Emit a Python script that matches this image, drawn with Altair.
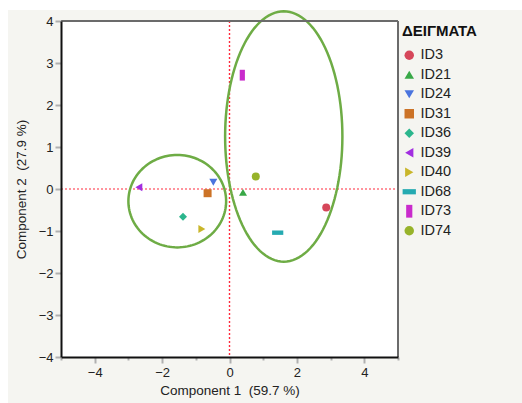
import altair as alt
import pandas as pd

# ---- data ----
ids = ["ID3", "ID21", "ID24", "ID31", "ID36", "ID39", "ID40", "ID68", "ID73", "ID74"]
comp1 = [2.87, 0.40, -0.48, -0.65, -1.38, -2.69, -0.82, 1.43, 0.38, 0.78]
comp2 = [-0.44, -0.08, 0.16, -0.10, -0.66, 0.04, -0.95, -1.04, 2.71, 0.30]
colors = ["#d6475a", "#38a847", "#4a74de", "#cc7327", "#2bb68d",
          "#a22ee0", "#c9b62a", "#25aab1", "#c92bcc", "#97b32a"]
shapes = ["circle", "triangle-up", "triangle-down", "square", "diamond",
          "triangle-left", "triangle-right",
          "M-1.4,-0.55L1.4,-0.55L1.4,0.55L-1.4,0.55Z",
          "M-0.65,-1.35L0.65,-1.35L0.65,1.35L-0.65,1.35Z",
          "circle"]

ell_group = ["A", "B"]
ell_cx = [-1.55, 1.61]
ell_cy = [-0.29, 1.25]
ell_rx = [1.45, 1.74]
ell_ry = [1.10, 2.98]

x_ticks = list(range(-5, 6))
y_ticks = list(range(-4, 5))
ref_x = [0]
ref_y = [0]

W, H = 337, 336
PL, PT, PR, PB = 61, 21, 124, 46
FONT = "Liberation Sans"
NB = "\u00a0"
REF_RED = "#ff2a3c"

pts = pd.DataFrame({"id": ids, "c1": comp1, "c2": comp2})
ell = pd.DataFrame({"g": ell_group, "cx": ell_cx, "cy": ell_cy, "rx": ell_rx, "ry": ell_ry})
one = pd.DataFrame({"a": [0]})

xscale = alt.Scale(domain=[-5, 5], nice=False, zero=False)
yscale = alt.Scale(domain=[-4, 4], nice=False, zero=False)

xaxis = alt.Axis(
    title="Component 1 " + NB + "(59.7 %)", values=x_ticks,
    labelExpr="datum.value % 2 === 0 ? datum.label : ''",
    tickSize={"condition": {"test": "datum.value % 2 === 0", "value": 6}, "value": 3},
    grid=False, zindex=1, domainColor="#111", domainWidth=2,
    tickColor="#b0b0b0", tickWidth=2, labelFontSize=13, labelColor="#222",
    labelPadding=3, titleFontSize=13.5, titleFontWeight="normal", titleColor="#222",
    titlePadding=4, labelFont=FONT, titleFont=FONT,
)
yaxis = alt.Axis(
    title="Component 2 " + NB + "(27.9 %)", values=y_ticks, tickSize=6,
    grid=False, zindex=1, domainColor="#111", domainWidth=2,
    tickColor="#b0b0b0", tickWidth=2, labelFontSize=13, labelColor="#222",
    labelPadding=2, titleFontSize=13.5, titleFontWeight="normal", titleColor="#222",
    titlePadding=10, labelFont=FONT, titleFont=FONT,
)

bg = alt.Chart(one).mark_rect(color="#f5f5f1").encode(
    x=alt.value(8 - PL), x2=alt.value(W + PR), y=alt.value(10 - PT), y2=alt.value(H + PB)
)
plotbg = alt.Chart(one).mark_rect(color="white").encode(
    x=alt.value(0), x2=alt.value(W), y=alt.value(0), y2=alt.value(H)
)

refx = alt.Chart(pd.DataFrame({"rx": ref_x})).mark_rule(
    stroke=REF_RED, strokeDash=[2, 2], strokeWidth=1.4
).encode(
    x=alt.X("rx:Q", scale=xscale, axis=xaxis),
    y=alt.value(0), y2=alt.value(H),
)
refy = alt.Chart(pd.DataFrame({"ry": ref_y})).mark_rule(
    stroke=REF_RED, strokeDash=[2, 2], strokeWidth=1.2
).encode(
    y=alt.Y("ry:Q", scale=yscale, axis=yaxis),
    x=alt.value(0), x2=alt.value(W),
)

ellipses = alt.Chart(ell).transform_calculate(
    t="sequence(0, 362, 3)"
).transform_flatten(["t"]).transform_calculate(
    ex="datum.cx + datum.rx * cos(datum.t * PI / 180)",
    ey="datum.cy + datum.ry * sin(datum.t * PI / 180)",
).mark_line(color="#6eac45", strokeWidth=2.5, clip=False).encode(
    x=alt.X("ex:Q", scale=xscale, axis=xaxis),
    y=alt.Y("ey:Q", scale=yscale, axis=yaxis),
    detail="g:N",
    order="t:Q",
)

points = alt.Chart(pts).mark_point(filled=True, opacity=1, size=64).encode(
    x=alt.X("c1:Q", scale=xscale, axis=xaxis),
    y=alt.Y("c2:Q", scale=yscale, axis=yaxis),
    color=alt.Color("id:N", scale=alt.Scale(domain=ids, range=colors),
                    sort=ids, title="ΔΕΙΓΜΑΤΑ"),
    shape=alt.Shape("id:N", scale=alt.Scale(domain=ids, range=shapes),
                    sort=ids, title="ΔΕΙΓΜΑΤΑ"),
)

frame_top = alt.Chart(one).mark_rule(color="#6b6b6b", strokeWidth=2).encode(
    x=alt.value(0), x2=alt.value(W), y=alt.value(0)
)
frame_right = alt.Chart(one).mark_rule(color="#6b6b6b", strokeWidth=2).encode(
    x=alt.value(W), y=alt.value(0), y2=alt.value(H)
)

chart = alt.layer(
    bg, plotbg, refx, refy, ellipses, points, frame_top, frame_right
).properties(
    width=W, height=H,
    autosize=alt.AutoSizeParams(type="none"),
    padding={"left": PL, "top": PT, "right": PR, "bottom": PB},
    background="white",
).configure_view(
    stroke=None, fill=None
).configure_legend(
    orient="none", legendX=341, legendY=3, padding=0,
    titleFont=FONT, titleFontSize=15, titleFontWeight="bold", titleColor="#111",
    titlePadding=9,
    labelFont=FONT, labelFontSize=14.5, labelColor="#222", labelOffset=4,
    symbolSize=90, symbolStrokeWidth=0, symbolOpacity=1, rowPadding=4.5,
)

chart.save("out.html", embed_options={"renderer": "svg", "actions": False})
